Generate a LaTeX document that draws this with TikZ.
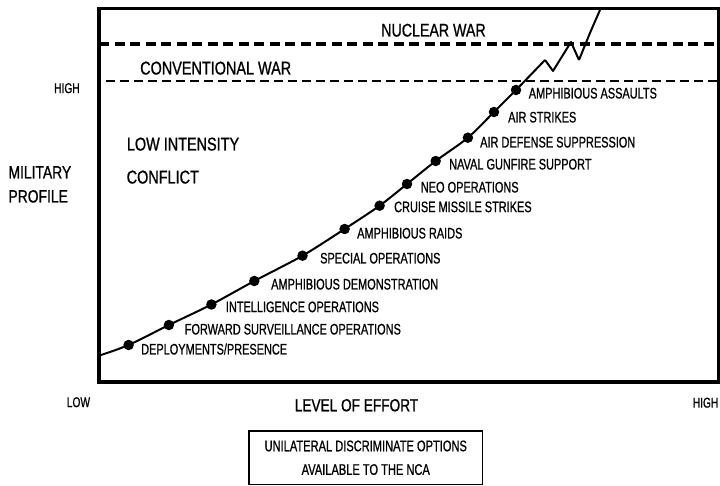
\documentclass[tikz,border=0pt]{standalone}
\usepackage{fontspec}
\setmainfont{Liberation Sans}[FakeStretch=0.72, FakeBold=0.8]
\newfontfamily\bigf{Liberation Sans}[FakeStretch=0.78, FakeBold=0.9]
\begin{document}
\begin{tikzpicture}[x=1pt,y=-1pt,
  lab/.style={anchor=west, inner sep=0pt, font=\fontsize{15.2}{17}\selectfont, text height=10.9pt, text depth=0pt},
  biglab/.style={inner sep=0pt, font=\bigf\fontsize{18.2}{20}\selectfont, text height=13pt, text depth=0pt},
  axlab/.style={inner sep=0pt, font=\fontsize{14.2}{16}\selectfont, text height=10.2pt, text depth=0pt},
  dot/.style={circle, fill=black, inner sep=0pt, minimum size=10.5pt},
  curve/.style={line width=2pt, line join=round},
  frame/.style={line width=3.5pt},
  nucline/.style={line width=4pt, dash pattern=on 10pt off 5.5pt},
  convline/.style={line width=2pt, dash pattern=on 9pt off 5pt}]
\useasboundingbox (0,0) rectangle (720,486);

% war threshold lines
\coordinate (nucA) at (99,44);
\coordinate (nucB) at (718,44);
\coordinate (conA) at (106,81);
\coordinate (conB) at (718,81);
\draw[nucline] (nucA) -- (nucB);
\draw[convline] (conA) -- (conB);

% frame
\draw[frame] (99,8.7) rectangle (718.5,382);

% curve points
\coordinate (s) at (99.5,355.5);
\coordinate (p1) at (128.6,345);
\coordinate (p2) at (168.9,325);
\coordinate (p3) at (211.4,304.5);
\coordinate (p4) at (254.3,281);
\coordinate (p5) at (302.5,255.7);
\coordinate (p6) at (344.6,229);
\coordinate (p7) at (379.6,205.7);
\coordinate (p8) at (407,184);
\coordinate (p9) at (435.7,161);
\coordinate (p10) at (467.9,137.7);
\coordinate (p11) at (494,112);
\coordinate (p12) at (516,90);
\coordinate (z0) at (545,60);
\coordinate (z1) at (553,71);
\coordinate (z2) at (571,42);
\coordinate (z3) at (579,60);
\coordinate (z4) at (590,33);
\coordinate (e) at (600,10);

\draw[curve] plot[smooth, tension=0.5] coordinates {(s) (p1) (p2) (p3) (p4) (p5) (p6) (p7) (p8) (p9) (p10) (p11) (p12) (z0)};
\draw[curve] (z0) -- (z1) -- (z2) -- (z3);
\draw[curve] plot[smooth, tension=0.5] coordinates {(z3) (z4) (e)};

\foreach \i in {1,...,12} { \node[dot] (d\i) at (p\i) {}; }

% option labels
\node[lab] (l1) at (141,349) {DEPLOYMENTS/PRESENCE};
\node[lab] (l2) at (184.6,329) {FORWARD SURVEILLANCE OPERATIONS};
\node[lab] (l3) at (225.7,306.7) {INTELLIGENCE OPERATIONS};
\node[lab] (l4) at (271,284) {AMPHIBIOUS DEMONSTRATION};
\node[lab] (l5) at (320,258) {SPECIAL OPERATIONS};
\node[lab] (l6) at (357,233) {AMPHIBIOUS RAIDS};
\node[lab] (l7) at (394,206.7) {CRUISE MISSILE STRIKES};
\node[lab] (l8) at (420.7,187) {NEO OPERATIONS};
\node[lab] (l9) at (449,164) {NAVAL GUNFIRE SUPPORT};
\node[lab] (l10) at (480,142) {AIR DEFENSE SUPPRESSION};
\node[lab] (l11) at (508,117) {AIR STRIKES};
\node[lab] (l12) at (528.6,93) {AMPHIBIOUS ASSAULTS};

% region labels
\node[biglab] (nuc) at (433.5,30) {NUCLEAR WAR};
\node[biglab, anchor=west, font=\bigf\fontsize{18.5}{20}\selectfont] (conv) at (140,68) {CONVENTIONAL WAR};
\node[biglab, anchor=west, font=\bigf\fontsize{18.5}{20}\selectfont] (lic1) at (126.7,144) {LOW INTENSITY};
\node[biglab, anchor=west, font=\bigf\fontsize{18.5}{20}\selectfont] (lic2) at (126.5,177) {CONFLICT};

% axis labels
\node[axlab, anchor=west] (yhigh) at (54,88) {HIGH};
\node[biglab, anchor=west, font=\bigf\fontsize{17.8}{20}\selectfont] (mil1) at (8.3,172) {MILITARY};
\node[biglab, anchor=west, font=\bigf\fontsize{17.8}{20}\selectfont] (mil2) at (8.3,196) {PROFILE};
\node[axlab, anchor=west] (xlow) at (66.6,402) {LOW};
\node[axlab, anchor=east] (xhigh) at (718.5,402.5) {HIGH};
\node[biglab, font=\bigf\fontsize{17.5}{20}\selectfont, text height=12.6pt] (loe) at (356.5,405) {LEVEL OF EFFORT};

% caption box
\node[draw, line width=1.5pt, minimum width=233.5pt, minimum height=53.5pt, inner sep=0pt,
      align=center, font=\fontsize{15.4}{23.6}\selectfont] (cap) at (365.75,457.75)
  {UNILATERAL DISCRIMINATE OPTIONS\\AVAILABLE TO THE NCA};
\end{tikzpicture}
\end{document}
